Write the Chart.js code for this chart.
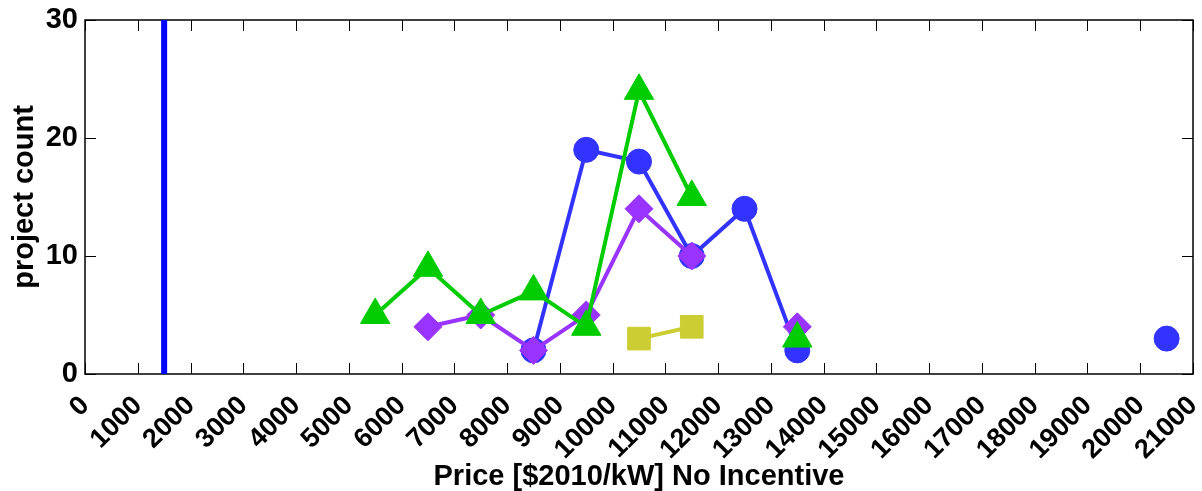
<!DOCTYPE html>
<html>
<head>
<meta charset="utf-8">
<script src="https://cdn.jsdelivr.net/npm/chart.js@4/dist/chart.umd.min.js"></script>
<style>
html,body{margin:0;padding:0;background:#fff;overflow:hidden;}
#wrap{position:relative;width:1202px;height:491px;}
</style>
</head>
<body>
<div id="wrap"><canvas id="c" width="1202" height="491"></canvas></div>
<script>
// ---- data ----
const priceBins = [5500, 6500, 7500, 8500, 9500, 10500, 11500, 12500, 13500, 14500, 15500, 16500, 17500, 18500, 19500, 20500];
const blueCounts   = [null, null, null, 2, 19, 18, 10, 14, 2, null, null, null, null, null, null, 3];
const purpleCounts = [null, 4, 5, 2, 5, 14, 10, null, 4, null, null, null, null, null, null, null];
const greenCounts  = [5, 9, 5, 7, 4, 24, 15, null, 3, null, null, null, null, null, null, null];
const yellowCounts = [null, null, null, null, null, 3, 4, null, null, null, null, null, null, null, null, null];
const refLineX = [1500, 1500];
const refLineY = [0, 30];
const xTicks = [0,1000,2000,3000,4000,5000,6000,7000,8000,9000,10000,11000,12000,13000,14000,15000,16000,17000,18000,19000,20000,21000];
const yTicks = [0, 10, 20, 30];
const xTitle = 'Price [$2010/kW] No Incentive';
const yTitle = 'project count';

function pts(xs, ys){ return xs.map((x,i)=>({x:x, y:ys[i]})); }

const FONT = "'Liberation Sans', Arial, Helvetica, sans-serif";

const boxPlugin = {
  id: 'boxTicks',
  beforeDatasetsDraw(chart){
    const ctx = chart.ctx, a = chart.chartArea;
    const xs = chart.scales.x, ys = chart.scales.y;
    ctx.save();
    ctx.strokeStyle = '#000';
    ctx.lineWidth = 1;
    const L = 11;
    ctx.beginPath();
    xTicks.forEach(v=>{
      const px = Math.round(xs.getPixelForValue(v)) + 0.5;
      ctx.moveTo(px, a.bottom); ctx.lineTo(px, a.bottom - L);
      ctx.moveTo(px, a.top); ctx.lineTo(px, a.top + L);
    });
    yTicks.forEach(v=>{
      const py = Math.round(ys.getPixelForValue(v)) + 0.5;
      ctx.moveTo(a.left, py); ctx.lineTo(a.left + L, py);
      ctx.moveTo(a.right, py); ctx.lineTo(a.right - L, py);
    });
    ctx.stroke();
    ctx.lineWidth = 1.5;
    ctx.strokeRect(a.left, a.top, a.right - a.left, a.bottom - a.top);
    ctx.restore();
  }
};

new Chart(document.getElementById('c'), {
  type: 'line',
  data: {
    datasets: [
      { label: 'ref', data: pts(refLineX, refLineY), borderColor: '#0000FF', borderWidth: 6, pointRadius: 0, order: 10 },
      { label: 'blue', data: pts(priceBins, blueCounts), borderColor: '#3333FF', backgroundColor: '#3333FF',
        borderWidth: 4, pointStyle: 'circle', pointRadius: 12.5, pointBorderWidth: 1, order: 3 },
      { label: 'purple', data: pts(priceBins, purpleCounts), borderColor: '#9933FF', backgroundColor: '#9933FF',
        borderWidth: 4, pointStyle: 'rectRot', pointRadius: 14, pointBorderWidth: 1, order: 2 },
      { label: 'green', data: pts(priceBins, greenCounts), borderColor: '#00CC00', backgroundColor: '#00CC00',
        borderWidth: 4, pointStyle: 'triangle', pointRadius: 17, pointBorderWidth: 1, order: 1 },
      { label: 'yellow', data: pts(priceBins, yellowCounts), borderColor: '#CCCC33', backgroundColor: '#CCCC33',
        borderWidth: 4, pointStyle: 'rect', pointRadius: 16, pointBorderWidth: 1, order: 0 }
    ]
  },
  options: {
    responsive: false,
    animation: false,
    spanGaps: false,
    layout: { autoPadding: false, padding: { top: 20, right: 9, bottom: 0, left: 0 } },
    plugins: { legend: { display: false }, tooltip: { enabled: false } },
    scales: {
      x: {
        type: 'linear', min: 0, max: 21000,
        afterBuildTicks(s){ s.ticks = xTicks.map(v=>({value:v})); },
        afterFit(s){ s.height = 491 - 374; s.paddingLeft = 0; s.paddingRight = 0; },
        grid: { display: false, drawTicks: false },
        border: { display: false },
        ticks: {
          autoSkip: false, maxRotation: 45, minRotation: 45, padding: 16,
          color: '#000', font: { family: FONT, size: 27, weight: 'bold' },
          callback: v => String(v)
        },
        title: { display: true, text: xTitle, color: '#000', padding: { top: 0, bottom: 0 },
          font: { family: FONT, size: 29, weight: 'bold', lineHeight: 1.0 } }
      },
      y: {
        type: 'linear', min: 0, max: 30,
        afterBuildTicks(s){ s.ticks = yTicks.map(v=>({value:v})); },
        afterFit(s){ s.width = 85; s.paddingTop = 0; s.paddingBottom = 0; },
        grid: { display: false, drawTicks: false },
        border: { display: false },
        ticks: { padding: 7, color: '#000', font: { family: FONT, size: 29, weight: 'bold' },
          callback: v => String(v) },
        title: { display: true, text: yTitle, color: '#000', padding: { top: 8, bottom: 0 },
          font: { family: FONT, size: 29, weight: 'bold' } }
      }
    }
  },
  plugins: [boxPlugin]
});
</script>
</body>
</html>
